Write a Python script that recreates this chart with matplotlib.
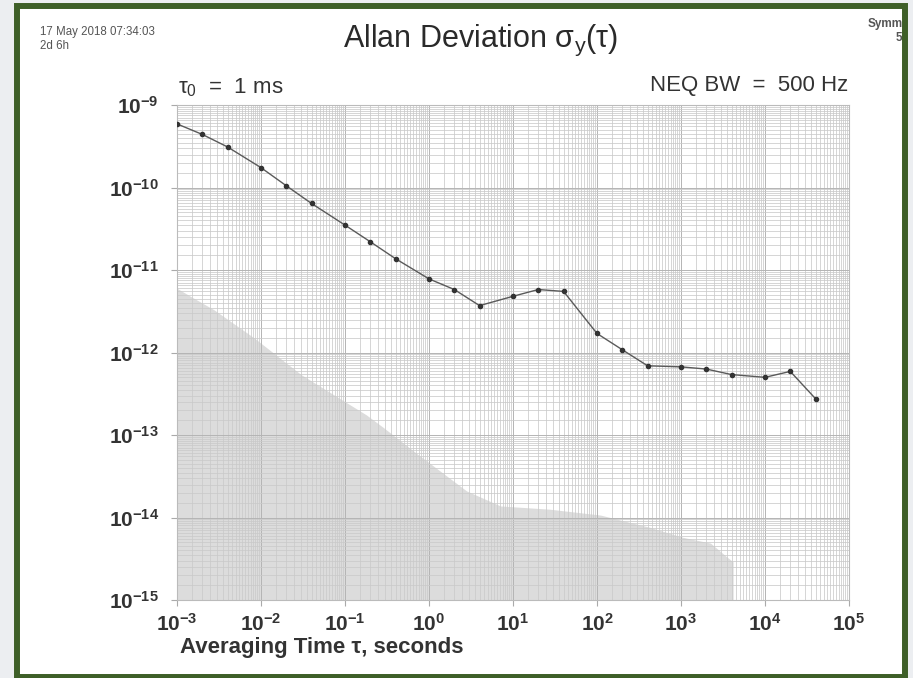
import numpy as np
import matplotlib
matplotlib.use("Agg")
import matplotlib.pyplot as plt
from matplotlib.patches import Rectangle
from matplotlib.ticker import LogLocator, FixedLocator, NullFormatter

plt.rcParams["font.family"] = ["Liberation Sans", "DejaVu Sans"]
plt.rcParams["mathtext.fontset"] = "custom"
plt.rcParams["mathtext.rm"] = "Liberation Sans"
plt.rcParams["mathtext.it"] = "Liberation Sans"
plt.rcParams["mathtext.bf"] = "Liberation Sans:bold"
plt.rcParams["mathtext.default"] = "regular"

# ---------------- data ----------------
tau = [1e-3, 2e-3, 4e-3, 1e-2, 2e-2, 4e-2, 0.1, 0.2, 0.4, 1, 2, 4,
       10, 20, 40, 100, 200, 400, 1000, 2000, 4000, 1e4, 2e4, 4e4]
adev = [5.9e-10, 4.4e-10, 3.1e-10, 1.74e-10, 1.05e-10, 6.4e-11, 3.5e-11,
        2.2e-11, 1.37e-11, 7.8e-12, 5.8e-12, 3.7e-12, 4.8e-12, 5.8e-12,
        5.5e-12, 1.7e-12, 1.08e-12, 6.9e-13, 6.7e-13, 6.3e-13, 5.4e-13,
        5.0e-13, 5.9e-13, 2.75e-13]

# noise floor (grey shaded region)
floor_tau = [1e-3, 1.5e-3, 2.75e-3, 8.3e-3, 3.0e-2, 0.18, 0.29, 0.71, 2.8,
             7.1, 27.5, 110, 427, 1050, 2240, 3550, 4170]
floor_val = [6.0e-12, 4.7e-12, 3.3e-12, 1.5e-12, 5.4e-13, 1.75e-13,
             1.22e-13, 6.0e-14, 2.1e-14, 1.38e-14, 1.26e-14, 1.07e-14,
             7.6e-15, 5.75e-15, 4.9e-15, 3.3e-15, 2.9e-15]

x_exp = list(range(-3, 6))
y_exp = list(range(-15, -8))

# ---------------- figure ----------------
W, H = 913, 678
fig = plt.figure(figsize=(W / 100, H / 100), dpi=100)
fig.patch.set_facecolor("white")


def fx(px):
    return px / W


def fy(py):
    return 1 - py / H


ax = fig.add_axes([fx(177), fy(600), fx(849) - fx(177), fy(105) - fy(600)])
ax.set_xscale("log")
ax.set_yscale("log")
ax.set_xlim(1e-3, 1e5)
ax.set_ylim(1e-15, 1e-9)

ax.fill_between(floor_tau, floor_val, 1e-15, color="#dcdcdc", lw=0, zorder=0.2)
ax.plot(tau, adev, color="#5a5a5a", lw=1.0, marker="o", ms=3,
        mfc="#333333", mec="#333333", zorder=3)

ax.set_axisbelow(True)
ax.xaxis.set_major_locator(FixedLocator([10.0 ** e for e in x_exp]))
ax.yaxis.set_major_locator(FixedLocator([10.0 ** e for e in y_exp]))
ax.xaxis.set_minor_locator(LogLocator(base=10, subs=np.arange(1.5, 10, 0.5), numticks=30))
ax.yaxis.set_minor_locator(LogLocator(base=10, subs=np.arange(1.5, 10, 0.5), numticks=30))
ax.xaxis.set_minor_formatter(NullFormatter())
ax.yaxis.set_minor_formatter(NullFormatter())
ax.grid(which="major", color="#b4b4b4", lw=0.7)
ax.grid(which="minor", color="#cacaca", lw=0.55)

ax.set_xticklabels([rf"$\mathbf{{10^{{{e}}}}}$" for e in x_exp])
ax.set_yticklabels([rf"$\mathbf{{10^{{{e}}}}}$" for e in y_exp])
ax.tick_params(which="major", length=4, color="#aaaaaa", labelsize=15,
               labelcolor="#333333")
ax.tick_params(axis="x", pad=5)
ax.tick_params(axis="y", pad=9)
ax.tick_params(which="minor", length=0)
for s in ax.spines.values():
    s.set_color("#bbbbbb")
    s.set_linewidth(0.8)

# ---------------- texts ----------------
fig.text(fx(481), fy(40), r"Allan Deviation $\sigma_{y}(\tau)$", ha="center",
         va="center", fontsize=22, color="#2a2a2a")
fig.text(fx(40), fy(32), "17 May 2018 07:34:03", ha="left", va="center",
         fontsize=8.3, color="#555555")
fig.text(fx(40), fy(46), "2d 6h", ha="left", va="center",
         fontsize=8.3, color="#555555")
fig.text(fx(868), fy(24), "Symm", ha="left", va="center",
         fontsize=8.5, color="#555555", fontweight="bold")
fig.text(fx(896), fy(38), "51", ha="left", va="center",
         fontsize=8.5, color="#555555", fontweight="bold")
fig.text(fx(178), fy(88), r"$\tau_0$  =  1 ms", ha="left", va="center",
         fontsize=16, color="#333333")
fig.text(fx(848), fy(86), "NEQ BW  =  500 Hz", ha="right", va="center",
         fontsize=16, color="#333333")
fig.text(fx(180), fy(648), "Averaging Time \u03c4, seconds", ha="left",
         va="center", fontsize=16, color="#333333", fontweight="bold")

# ---------------- scan frame ----------------
bg = "#eceef1"
green = "#3e5f28"
for (x0, y0, x1, y1) in [(0, 0, 14, H), (908, 0, W, H), (0, 0, W, 3)]:
    fig.add_artist(Rectangle((fx(x0), fy(y1)), fx(x1) - fx(x0), fy(y0) - fy(y1),
                             transform=fig.transFigure, facecolor=bg,
                             edgecolor="none", zorder=10))
fig.add_artist(Rectangle((fx(17), fy(677)), fx(905) - fx(17), fy(5.5) - fy(677),
                         transform=fig.transFigure, facecolor="none",
                         edgecolor=green, lw=4.3, zorder=11))

fig.savefig("out.png", dpi=100)
